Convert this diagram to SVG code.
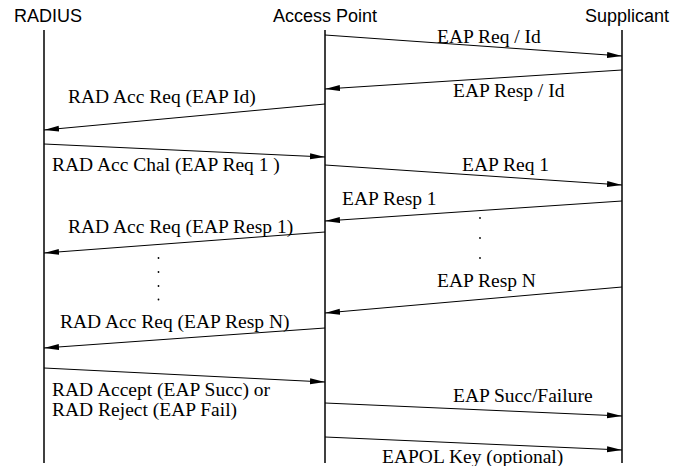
<svg xmlns="http://www.w3.org/2000/svg" width="683" height="466" viewBox="0 0 683 466">
<defs>
<marker id="ah" markerUnits="userSpaceOnUse" markerWidth="16" markerHeight="8" refX="15" refY="3" orient="auto"><path d="M0,0 L15,3 L0,6 z" fill="#000"/></marker>
<style>
.hd{font-family:"Liberation Sans",Arial,sans-serif;font-size:18px;fill:#000}
.lb{font-family:"Liberation Serif","Times New Roman",serif;font-size:19.5px;fill:#000}
.life{stroke:#000;stroke-width:1.5;fill:none}
.msg{stroke:#000;stroke-width:1;fill:none;marker-end:url(#ah)}
.dot{fill:#000}
</style>
</defs>
<rect width="683" height="466" fill="#fff"/>
<g id="radius"><text class="hd" x="48" y="22" text-anchor="middle">RADIUS</text><line class="life" x1="44" y1="30" x2="44" y2="463"/></g>
<g id="access-point"><text class="hd" x="325" y="22" text-anchor="middle">Access Point</text><line class="life" x1="325" y1="30" x2="325" y2="463"/></g>
<g id="supplicant"><text class="hd" x="627" y="22" text-anchor="middle">Supplicant</text><line class="life" x1="622" y1="30" x2="622" y2="463"/></g>
<g id="connectors">
<line class="msg" x1="325" y1="35" x2="622" y2="56"/>
<line class="msg" x1="622" y1="70" x2="325" y2="89"/>
<line class="msg" x1="325" y1="104" x2="44" y2="130"/>
<line class="msg" x1="44" y1="144" x2="325" y2="157"/>
<line class="msg" x1="325" y1="165" x2="622" y2="185"/>
<line class="msg" x1="622" y1="201" x2="325" y2="221"/>
<line class="msg" x1="325" y1="232" x2="44" y2="253"/>
<line class="msg" x1="622" y1="287" x2="325" y2="313"/>
<line class="msg" x1="325" y1="328" x2="44" y2="348"/>
<line class="msg" x1="44" y1="368" x2="325" y2="382"/>
<line class="msg" x1="325" y1="403" x2="622" y2="416"/>
<line class="msg" x1="325" y1="437" x2="622" y2="450"/>
</g>
<g id="labels">
<text class="lb" x="437" y="43">EAP Req / Id</text>
<text class="lb" x="453" y="97">EAP Resp / Id</text>
<text class="lb" x="68" y="103">RAD Acc Req (EAP Id)</text>
<text class="lb" x="52" y="171">RAD Acc Chal (EAP Req 1 )</text>
<text class="lb" x="462" y="171">EAP Req 1</text>
<text class="lb" x="342" y="205">EAP Resp 1</text>
<text class="lb" x="68" y="233">RAD Acc Req (EAP Resp 1)</text>
<text class="lb" x="437" y="287">EAP Resp N</text>
<text class="lb" x="60" y="328">RAD Acc Req (EAP Resp N)</text>
<text class="lb" x="52" y="396">RAD Accept (EAP Succ) or</text>
<text class="lb" x="52" y="416">RAD Reject (EAP Fail)</text>
<text class="lb" x="453" y="402">EAP Succ/Failure</text>
<text class="lb" x="382" y="463">EAPOL Key (optional)</text>
</g>
<g id="ellipsis">
<circle class="dot" cx="158.5" cy="258" r="0.9"/>
<circle class="dot" cx="158.5" cy="272" r="0.9"/>
<circle class="dot" cx="158.5" cy="286" r="0.9"/>
<circle class="dot" cx="158.5" cy="299.5" r="0.9"/>
<circle class="dot" cx="480" cy="218" r="0.9"/>
<circle class="dot" cx="480" cy="238" r="0.9"/>
<circle class="dot" cx="480" cy="258" r="0.9"/>
</g>
</svg>
